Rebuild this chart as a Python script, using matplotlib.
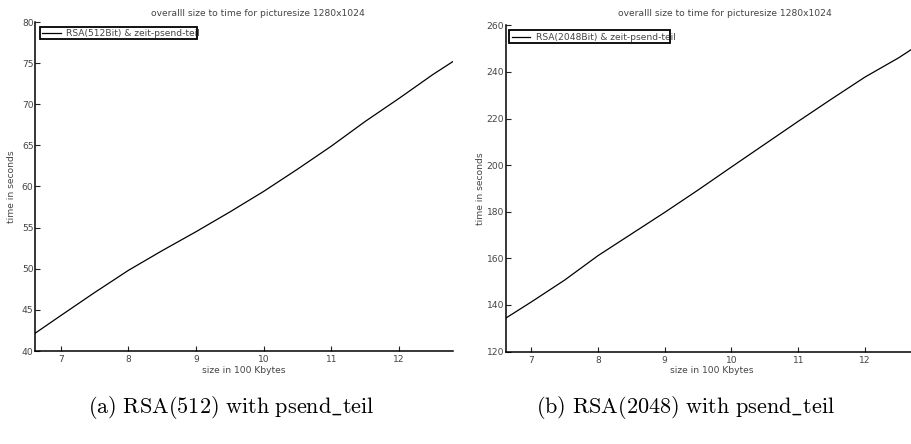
import matplotlib
matplotlib.use("Agg")
import matplotlib.pyplot as plt
from matplotlib.patches import Rectangle

# size in 100 Kbytes
size_512 = [6.62, 7.0, 7.5, 8.0, 8.5, 9.0, 9.5, 10.0, 10.5, 11.0, 11.5, 12.0, 12.5, 12.8]
time_512 = [42.15, 44.3, 47.1, 49.8, 52.2, 54.5, 56.9, 59.4, 62.1, 64.9, 67.9, 70.7, 73.6, 75.2]

size_2048 = [6.62, 7.0, 7.5, 8.0, 8.5, 9.0, 9.5, 10.0, 10.5, 11.0, 11.5, 12.0, 12.5, 12.8]
time_2048 = [134.3, 141.2, 150.6, 161.1, 170.4, 179.7, 189.3, 199.2, 209.0, 218.8, 228.4, 237.8, 246.0, 251.6]

x_ticks = [7, 8, 9, 10, 11, 12]
yticks_512 = [40, 45, 50, 55, 60, 65, 70, 75, 80]
yticks_2048 = [120, 140, 160, 180, 200, 220, 240, 260]

title = "overalll size to time for picturesize 1280x1024"
labels = ["RSA(512Bit) & zeit-psend-teil", "RSA(2048Bit) & zeit-psend-teil"]
captions = [r"$\mathrm{(a)\ RSA(512)\ with\ psend\_teil}$",
            r"$\mathrm{(b)\ RSA(2048)\ with\ psend\_teil}$"]

plt.rcParams["mathtext.fontset"] = "cm"
plt.rcParams["font.family"] = "DejaVu Sans"

W, H = 912, 444
fig = plt.figure(figsize=(W / 100, H / 100), dpi=100)


def px_axes(x0, y0, x1, y1):
    return fig.add_axes([x0 / W, 1 - y1 / H, (x1 - x0) / W, (y1 - y0) / H])


ax1 = px_axes(35, 22, 453, 351)
ax2 = px_axes(505.7, 25.3, 918.5, 351.5)

panels = [
    (ax1, size_512, time_512, yticks_512, labels[0], 258, -0.045, (39.5, 26.7, 196.7, 39.3)),
    (ax2, size_2048, time_2048, yticks_2048, labels[1], 725, -0.05, (509.3, 30, 670, 43.3)),
]

fs = 6.6
for ax, xs, ys, yt, lab, tx, ylx, box in panels:
    ax.plot(xs, ys, color="black", lw=0.9, label=lab)
    ax.set_xlim(6.62, 12.8)
    ax.set_ylim(yt[0], yt[-1])
    ax.set_xticks(x_ticks)
    ax.set_yticks(yt)
    for s in ["top", "right"]:
        ax.spines[s].set_visible(False)
    for s in ["left", "bottom"]:
        ax.spines[s].set_linewidth(1.1)
    ax.tick_params(direction="in", length=3.5, width=0.8, labelsize=fs,
                   colors="#222222", labelcolor="#444444")
    ax.tick_params(axis="x", pad=3)
    ax.tick_params(axis="y", pad=1)
    ax.set_xlabel("size in 100 Kbytes", fontsize=fs, color="#444444")
    ax.set_ylabel("time in seconds", fontsize=fs, color="#444444")
    ax.xaxis.set_label_coords(0.5, -0.045)
    ax.yaxis.set_label_coords(ylx, 0.5)
    fig.text(tx / W, 1 - 14 / H, title, ha="center", va="center",
             fontsize=fs, color="#444444")
    ax.legend(loc="upper left", bbox_to_anchor=(box[0] / W, 1 - box[1] / H),
              bbox_transform=fig.transFigure, frameon=False, fontsize=fs,
              handlelength=2.0, handletextpad=0.6, borderpad=0.3,
              borderaxespad=0, labelcolor="#444444")
    fig.add_artist(Rectangle((box[0] / W, 1 - box[3] / H),
                             (box[2] - box[0]) / W, (box[3] - box[1]) / H,
                             transform=fig.transFigure, fill=False,
                             edgecolor="black", lw=1.3))

fig.text(231.5 / W, 1 - 407 / H, captions[0], ha="center", va="center", fontsize=16)
fig.text(685 / W, 1 - 407 / H, captions[1], ha="center", va="center", fontsize=16)

fig.savefig("out.png", dpi=100)
